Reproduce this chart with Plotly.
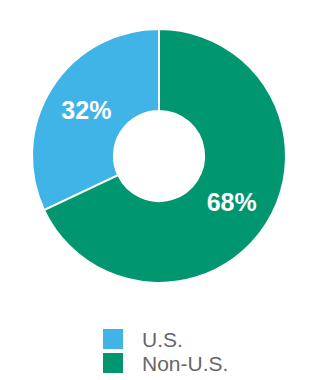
import plotly.graph_objects as go

labels = ["U.S.", "Non-U.S."]
values = [32, 68]
colors = ["#40B4E6", "#00966F"]

W, H = 320, 380

# place U.S. slice ending at 12 o'clock on the left side
start_rotation = -360 * values[0] / sum(values)

fig = go.Figure()
fig.add_trace(go.Pie(
    labels=labels,
    values=values,
    hole=0.355,
    sort=False,
    direction="clockwise",
    rotation=start_rotation,
    marker=dict(colors=colors, line=dict(color="white", width=2)),
    textinfo="percent",
    texttemplate="%{percent:.0%}",
    textposition="inside",
    insidetextorientation="horizontal",
    textfont=dict(family="Liberation Sans, Arial, sans-serif", size=25, color="white", weight="bold"),
    showlegend=False,
    hoverinfo="skip",
    domain=dict(x=[32 / W, 286 / W], y=[1 - 283 / H, 1 - 29 / H]),
))

# custom legend (squares + labels)
shapes = []
annotations = []
legend_y = [339, 363]
for lab, col, yc in zip(labels, colors, legend_y):
    shapes.append(dict(type="rect", xref="paper", yref="paper",
                       x0=103 / W, x1=123 / W,
                       y0=1 - (yc + 10) / H, y1=1 - (yc - 10) / H,
                       fillcolor=col, line=dict(width=0)))
    annotations.append(dict(text=lab, xref="paper", yref="paper",
                            x=140 / W, y=1 - yc / H, xanchor="left", yanchor="middle",
                            showarrow=False,
                            font=dict(family="Liberation Sans, Arial, sans-serif", size=21, color="#666666")))

fig.update_layout(
    width=W, height=H,
    margin=dict(l=0, r=0, t=0, b=0),
    paper_bgcolor="white",
    plot_bgcolor="white",
    shapes=shapes,
    annotations=annotations,
)

fig.write_html("out.html", config=dict(displayModeBar=False))
